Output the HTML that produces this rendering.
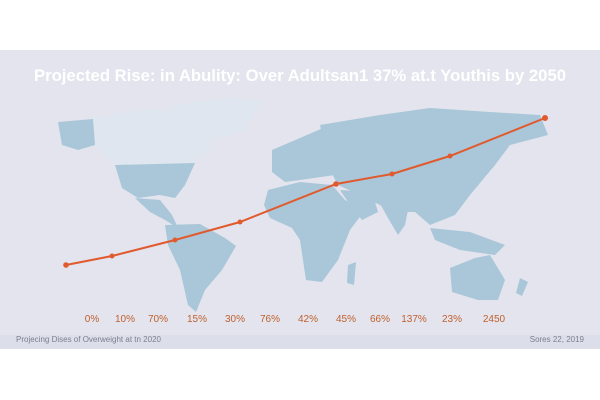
<!DOCTYPE html>
<html><head><meta charset="utf-8"><style>
html,body{margin:0;padding:0;width:600px;height:400px;background:#fff;overflow:hidden}
svg{display:block}
text{font-family:"Liberation Sans",sans-serif}
</style></head><body>
<svg width="600" height="400" viewBox="0 0 600 400">
<rect x="0" y="50" width="600" height="299" fill="#e3e4ee"/>
<rect x="0" y="335" width="600" height="14" fill="#dcdeea"/>
<g fill="#dfe6ef">
<polygon points="93,118 140,110 200,108 215,130 210,150 190,165 115,165 95,145"/>
<polygon points="170,105 230,98 262,100 245,130 215,140 195,130"/>
</g>
<g fill="#a9c7d8">
<polygon points="58,122 93,119 95,145 78,150 62,145"/>
<polygon points="115,165 195,163 185,185 175,198 160,195 138,198 122,188"/>
<polygon points="135,198 160,200 172,215 178,228 165,220 150,212"/>
<polygon points="165,225 200,224 225,238 236,246 222,270 205,290 196,312 188,305 180,270 168,245"/>
<polygon points="272,150 300,138 330,125 335,175 300,180 285,182 272,172"/>
<polygon points="320,125 380,115 430,108 490,112 540,115 548,135 510,145 495,165 470,195 455,215 430,225 415,212 395,212 380,205 360,195 338,185 330,170"/>
<polygon points="268,190 300,182 332,185 345,200 365,210 350,230 338,260 322,282 306,280 300,240 292,228 270,218 264,205"/>
<polygon points="340,190 372,192 378,212 362,220 350,205"/>
<polygon points="378,200 410,200 405,225 398,235 388,218"/>
<polygon points="430,228 470,232 505,245 495,255 460,250 435,240"/>
<polygon points="450,268 475,258 490,255 505,280 498,300 478,300 452,292"/>
<polygon points="348,265 356,262 354,285 347,283"/>
<polygon points="520,278 528,282 522,296 516,293"/>
</g>
<polyline points="66,265 112,256 175,240 240,222 336,184 392,174 450,156 545,118" fill="none" stroke="#e05a2e" stroke-width="2"/>
<g fill="#e05a2e">
<circle cx="66" cy="265" r="2.8"/><circle cx="112" cy="256" r="2.5"/><circle cx="175" cy="240" r="2.5"/><circle cx="240" cy="222" r="2.5"/><circle cx="336" cy="184" r="2.8"/><circle cx="392" cy="174" r="2.5"/><circle cx="450" cy="156" r="2.5"/><circle cx="545" cy="118" r="3"/>
</g>
<text x="34" y="81" textLength="532" lengthAdjust="spacingAndGlyphs" font-size="17" font-weight="bold" fill="#ffffff">Projected Rise: in Abulity: Over Adultsan1 37% at.t Youthis by 2050</text>
<g font-size="10" fill="#c0602e" text-anchor="middle">
<text x="92" y="322">0%</text><text x="125" y="322">10%</text><text x="158" y="322">70%</text><text x="197" y="322">15%</text><text x="235" y="322">30%</text><text x="270" y="322">76%</text><text x="308" y="322">42%</text><text x="346" y="322">45%</text><text x="380" y="322">66%</text><text x="414" y="322">137%</text><text x="452" y="322">23%</text><text x="494" y="322">2450</text>
</g>
<text x="16" y="342" font-size="8" fill="#7a7f8f">Projecing Dises of Overweight at tn 2020</text>
<text x="584" y="342" font-size="8" fill="#7a7f8f" text-anchor="end">Sores 22, 2019</text>
</svg>
</body></html>
